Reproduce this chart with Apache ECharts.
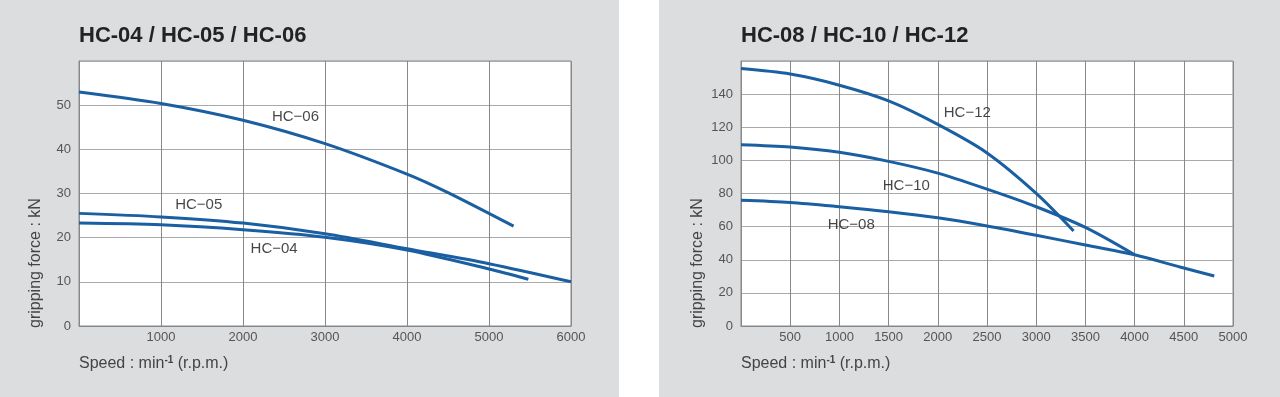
<!DOCTYPE html>
<html>
<head>
<meta charset="utf-8">
<script src="https://cdn.jsdelivr.net/npm/echarts@6/dist/echarts.min.js"></script>
<style>
  html, body { margin: 0; padding: 0; background: #fff; }
  #chart { width: 1280px; height: 397px; }
</style>
</head>
<body>
<div id="chart"></div>
<script>
// left chart: HC-04 / HC-05 / HC-06
const leftTicksX = [0, 1000, 2000, 3000, 4000, 5000, 6000];
const hc06Rpm = [0, 1000, 2000, 3000, 4000, 4500, 5300];
const hc06Force = [53.0, 50.4, 46.6, 41.3, 34.4, 30.2, 22.6];
const hc05Rpm = [0, 1000, 2000, 3000, 4000, 5000, 6000];
const hc05Force = [25.5, 24.7, 23.3, 20.9, 17.5, 14.1, 10.0];
const hc04Rpm = [0, 1000, 2000, 3000, 4000, 5000, 5480];
const hc04Force = [23.3, 22.9, 21.8, 20.1, 17.2, 12.9, 10.6];
const leftLabels = [[2640, 47.3, 'HC−06'], [1460, 27.4, 'HC−05'], [2380, 17.5, 'HC−04']];

// right chart: HC-08 / HC-10 / HC-12
const hc12Rpm = [0, 500, 1000, 1500, 2000, 2500, 3000, 3380];
const hc12Force = [155.4, 152.1, 145.4, 135.9, 121.7, 104.5, 80.1, 57.4];
const hc10Rpm = [0, 500, 1000, 1500, 2000, 2500, 3000, 3500, 4000];
const hc10Force = [109.5, 108.1, 104.9, 99.4, 92.3, 82.6, 72.0, 59.5, 43.0];
const hc08Rpm = [0, 500, 1000, 1500, 2000, 2500, 3000, 3500, 4000, 4500, 4810];
const hc08Force = [75.9, 74.6, 72.0, 69.0, 65.3, 60.4, 54.8, 48.9, 43.0, 35.0, 30.2];
const rightLabels = [[2300, 128.8, 'HC−12'], [1680, 84.6, 'HC−10'], [1120, 61.3, 'HC−08']];

const titles = ['HC-04 / HC-05 / HC-06', 'HC-08 / HC-10 / HC-12'];

const FONT = '"Liberation Sans", Arial, sans-serif';
const BLUE = '#1a5fa2';
const pair = (xs, ys) => xs.map((x, i) => [x, ys[i]]);

const chart = echarts.init(document.getElementById('chart'));

function curve(name, idx, xs, ys) {
  return {
    name: name,
    type: 'line',
    xAxisIndex: idx,
    yAxisIndex: idx,
    smooth: 0.3,
    showSymbol: false,
    symbol: 'none',
    lineStyle: { color: BLUE, width: 3 },
    data: pair(xs, ys),
    z: 3
  };
}

function labelSeries(idx, labels) {
  return {
    type: 'scatter',
    xAxisIndex: idx,
    yAxisIndex: idx,
    symbolSize: 0,
    silent: true,
    data: labels.map(l => ({ value: [l[0], l[1]], name: l[2] })),
    label: {
      show: true,
      position: 'inside',
      formatter: '{b}',
      fontFamily: FONT,
      fontSize: 15,
      color: '#161616'
    },
    z: 4
  };
}

function xAxis(idx, max, interval) {
  return {
    type: 'value',
    gridIndex: idx,
    min: 0,
    max: max,
    interval: interval,
    axisLine: { show: true, lineStyle: { color: '#888', width: 1 } },
    axisTick: { show: false },
    axisLabel: { showMinLabel: false, color: '#555', fontSize: 13, fontFamily: FONT, margin: 5, formatter: v => String(v) },
    splitLine: { show: true, lineStyle: { color: '#888', width: 1 } }
  };
}

function yAxis(idx, max, interval) {
  return {
    type: 'value',
    gridIndex: idx,
    min: 0,
    max: max,
    interval: interval,
    axisLine: { show: true, lineStyle: { color: '#888', width: 1 } },
    axisTick: { show: false },
    axisLabel: { showMaxLabel: false, color: '#555', fontSize: 13, fontFamily: FONT, margin: 8 },
    splitLine: { show: true, lineStyle: { color: '#aaa', width: 1 } }
  };
}

function axisNames(left, title) {
  return [
    {
      type: 'text',
      x: left,
      y: 36,
      style: { text: title, fontFamily: FONT, fontSize: 22, fontWeight: 'bold', fill: '#232323', textVerticalAlign: 'middle' }
    },
    {
      type: 'text',
      x: left - 43,
      y: 328,
      rotation: Math.PI / 2,
      style: { text: 'gripping force : kN', fontFamily: FONT, fontSize: 16, fill: '#444', textAlign: 'left', textVerticalAlign: 'middle' }
    },
    {
      type: 'text',
      x: left,
      y: 364,
      style: {
        text: 'Speed : min{sup|-1} (r.p.m.)',
        fontFamily: FONT,
        fontSize: 16,
        fill: '#444',
        textVerticalAlign: 'middle',
        rich: {
          sup: { fontFamily: FONT, fontSize: 10, fontWeight: 'bold', fill: '#444', verticalAlign: 'top', padding: [0, 0, 8, 0] }
        }
      }
    }
  ];
}

chart.setOption({
  animation: false,
  backgroundColor: '#fff',
  graphic: [
    { type: 'rect', shape: { x: 0, y: 0, width: 619, height: 397 }, style: { fill: '#dcdddf' }, z: -10 },
    { type: 'rect', shape: { x: 659, y: 0, width: 621, height: 397 }, style: { fill: '#dcdddf' }, z: -10 }
  ].concat(axisNames(79, titles[0]), axisNames(741, titles[1])),
  grid: [
    { left: 79, top: 61, width: 492, height: 265, show: true, backgroundColor: '#fff', borderColor: '#888', borderWidth: 1 },
    { left: 741, top: 61, width: 492, height: 265, show: true, backgroundColor: '#fff', borderColor: '#888', borderWidth: 1 }
  ],
  xAxis: [xAxis(0, leftTicksX[leftTicksX.length - 1], 1000), xAxis(1, 5000, 500)],
  yAxis: [yAxis(0, 60, 10), yAxis(1, 160, 20)],
  series: [
    curve('HC-06', 0, hc06Rpm, hc06Force),
    curve('HC-05', 0, hc05Rpm, hc05Force),
    curve('HC-04', 0, hc04Rpm, hc04Force),
    labelSeries(0, leftLabels),
    curve('HC-12', 1, hc12Rpm, hc12Force),
    curve('HC-10', 1, hc10Rpm, hc10Force),
    curve('HC-08', 1, hc08Rpm, hc08Force),
    labelSeries(1, rightLabels)
  ]
});
</script>
</body>
</html>
